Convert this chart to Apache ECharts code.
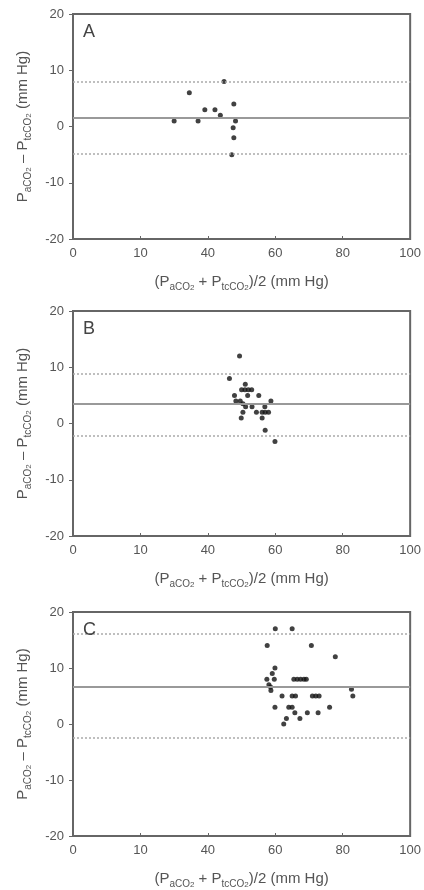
<!DOCTYPE html>
<html>
<head>
<meta charset="utf-8">
<script src="https://cdn.jsdelivr.net/npm/echarts@6/dist/echarts.min.js"></script>
<style>
  html, body { margin: 0; padding: 0; background: #fff; }
  #main { width: 424px; height: 890px; }
</style>
</head>
<body>
<div id="main"></div>
<script>
// x tick labels as printed in the figure (second one really reads "10")
var xTickLabels = ['0', '10', '40', '60', '80', '100'];
var yTicks = [-20, -10, 0, 10, 20];
var panelNames = ['A', 'B', 'C'];

// panel A
var aMean = [44.8, 34.5, 39.1, 42.1, 43.7, 47.7, 30, 37.1, 48.2, 47.5, 47.7, 47.1];
var aDiff = [8, 6, 3, 3, 2, 4, 1, 1, 1, -0.2, -2, -5];
var aLines = [1.6, 8, -4.8]; // bias, upper, lower

// panel B
var bMean = [49.4, 46.4, 51.1, 50, 51, 52, 53, 51.8, 55.1, 47.9, 48.3, 49.6, 50.4, 51.2, 53.1,
             58.7, 56.9, 50.4, 54.4, 56.1, 57, 58, 56.1, 49.9, 57, 59.9];
var bDiff = [12, 8, 7, 6, 6, 6, 6, 5, 5, 5, 4, 4, 3.5, 3, 3,
             4, 3, 2, 2, 2, 2, 2, 1, 1, -1.2, -3.2];
var bLines = [3.5, 8.9, -2.1];

// panel C
var cMean = [60, 65, 57.6, 70.7, 77.8, 59.9, 59.1, 57.5, 59.7, 58.1, 58.6, 58.7,
             65.5, 66.5, 67.5, 68.5, 69.2, 62, 65, 66, 71, 72, 73,
             59.9, 64, 65, 65.8, 69.5, 72.7, 76.1, 67.3, 63.3, 62.5, 82.6, 83];
var cDiff = [17, 17, 14, 14, 12, 10, 9, 8, 8, 7, 6.6, 6,
             8, 8, 8, 8, 8, 5, 5, 5, 5, 5, 5,
             3, 3, 3, 2, 2, 2, 3, 1, 1, 0, 6.2, 5];
var cLines = [6.6, 16.2, -2.5];

var means = [aMean, bMean, cMean];
var diffs = [aDiff, bDiff, cDiff];
var lines = [aLines, bLines, cLines];

var gridTops = [14, 311, 612];
var font = 'Liberation Sans';
var grey = '#555';

var richSub = {
    s: { fontSize: 10, fontFamily: font, color: grey, lineHeight: 10, verticalAlign: 'bottom' },
    s2: { fontSize: 8, fontFamily: font, color: grey, lineHeight: 7, verticalAlign: 'bottom' }
};
var xName = '(P{s|aCO}{s2|2} + P{s|tcCO}{s2|2})/2 (mm Hg)';
var yName = 'P{s|aCO}{s2|2} \u2013 P{s|tcCO}{s2|2} (mm Hg)';

var grids = [], xAxes = [], yAxes = [], series = [], titles = [];
for (var i = 0; i < 3; i++) {
    grids.push({
        left: 73, top: gridTops[i], width: 339, height: 225,
        show: true, borderColor: '#666', borderWidth: 2, backgroundColor: 'transparent'
    });
    titles.push({
        text: panelNames[i], left: 78, top: gridTops[i] + 4,
        textStyle: { fontSize: 18, fontWeight: 'normal', color: '#444', fontFamily: font }
    });
    xAxes.push({
        type: 'value', gridIndex: i, min: 0, max: 100, interval: 20,
        splitLine: { show: false },
        axisLine: { onZero: false, lineStyle: { color: '#666', width: 2 } },
        axisTick: { inside: true, length: 3, lineStyle: { color: '#666' } },
        axisLabel: {
            color: grey, fontSize: 13, fontFamily: font, margin: 8,
            formatter: function (v) { return xTickLabels[Math.round(v / 20)]; }
        },
        name: xName, nameLocation: 'middle', nameGap: 33,
        nameTextStyle: { fontSize: 15, color: grey, fontFamily: font, lineHeight: 20, rich: richSub }
    });
    yAxes.push({
        type: 'value', gridIndex: i, min: yTicks[0], max: yTicks[yTicks.length - 1], interval: 10,
        splitLine: { show: false },
        axisLine: { onZero: false, lineStyle: { color: '#666', width: 2 } },
        axisTick: { length: 4, lineStyle: { color: '#666' } },
        axisLabel: { color: grey, fontSize: 13, fontFamily: font, margin: 9 },
        name: yName, nameLocation: 'middle', nameGap: 40,
        nameTextStyle: { fontSize: 15, color: grey, fontFamily: font, lineHeight: 20, rich: richSub }
    });
    var pts = [];
    for (var k = 0; k < means[i].length; k++) pts.push([means[i][k], diffs[i][k]]);
    series.push({
        type: 'scatter', xAxisIndex: i, yAxisIndex: i,
        data: pts, symbolSize: 5,
        itemStyle: { color: '#111' },
        markLine: {
            silent: true, symbol: 'none', label: { show: false },
            data: [
                { yAxis: lines[i][0], lineStyle: { color: '#999', width: 2, type: 'solid' } },
                { yAxis: lines[i][1], lineStyle: { color: '#aaa', width: 1.5, type: [2, 2] } },
                { yAxis: lines[i][2], lineStyle: { color: '#aaa', width: 1.5, type: [2, 2] } }
            ]
        }
    });
}

var myChart = echarts.init(document.getElementById('main'));
myChart.setOption({
    animation: false,
    backgroundColor: '#fff',
    title: titles,
    grid: grids,
    xAxis: xAxes,
    yAxis: yAxes,
    series: series
});
</script>
</body>
</html>
